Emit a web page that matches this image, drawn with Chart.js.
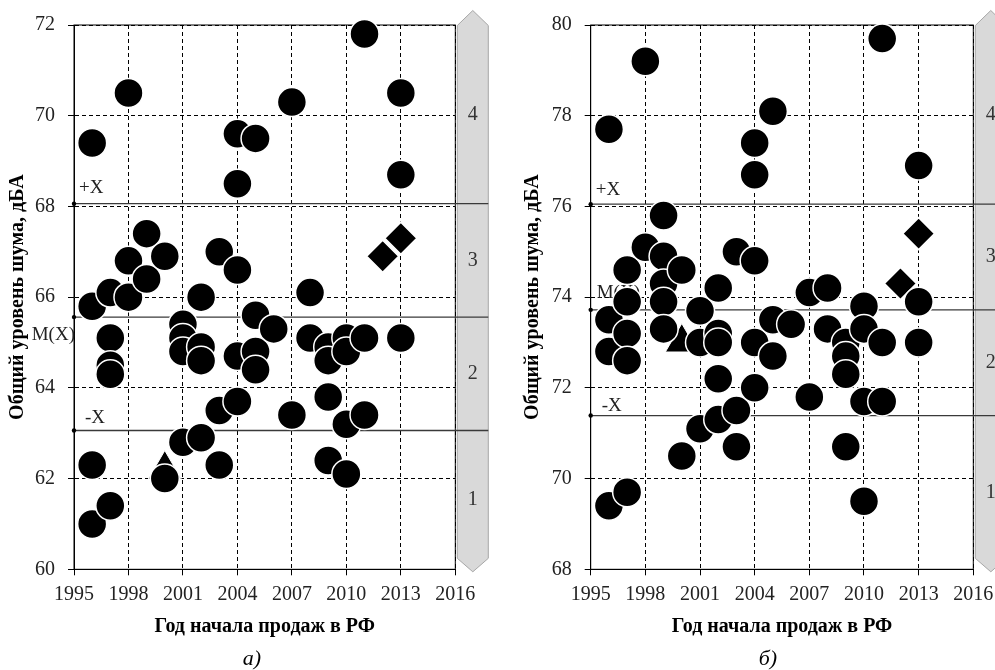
<!DOCTYPE html>
<html lang="ru">
<head>
<meta charset="utf-8">
<title>Общий уровень шума</title>
<script src="https://cdn.jsdelivr.net/npm/chart.js@4.4.1/dist/chart.umd.min.js"></script>
<style>
  html, body { margin: 0; padding: 0; background: #fff; overflow: hidden; width: 995px; height: 670px; }
  #wrap { position: relative; width: 995px; height: 670px; overflow: hidden; }
  canvas { position: absolute; top: 0; }
  #chartA { left: 0; }
  #chartB { left: 505px; }
  .caption { position: absolute; top: 645px; height: 24px; line-height: 24px; width: 60px; margin-left: -30px;
             text-align: center; font: italic 22px "Liberation Serif", serif; color: #000; }
</style>
</head>
<body>
<div id="wrap">
  <canvas id="chartA" width="505" height="670"></canvas>
  <canvas id="chartB" width="525" height="670"></canvas>
  <div class="caption" style="left:252px">а)</div>
  <div class="caption" style="left:768px">б)</div>
</div>
<script>
"use strict";

const FONT = '"Liberation Serif", "Times New Roman", serif';

// а) автомобили: год начала продаж / уровень шума, дБА
const yearsA = [1996, 1996, 1996, 1996, 1997, 1997, 1997, 1997, 1997, 1998, 1998, 1998, 1999, 1999, 2000, 2000,
    2001, 2001, 2001, 2001, 2002, 2002, 2002, 2002, 2003, 2003, 2003, 2004, 2004, 2004, 2004, 2004,
    2005, 2005, 2005, 2005, 2006, 2007, 2007, 2008, 2008, 2009, 2009, 2009, 2009, 2010, 2010, 2010, 2010,
    2011, 2011, 2011, 2013, 2013, 2013];
const noiseA = [69.4, 65.8, 62.3, 61.0, 66.1, 65.1, 64.5, 64.3, 61.4, 70.5, 66.8, 66.0, 67.4, 66.4, 66.9, 62.0,
    65.4, 65.1, 64.8, 62.8, 66.0, 64.9, 64.6, 62.9, 67.0, 63.5, 62.3, 69.6, 68.5, 66.6, 64.7, 63.7,
    69.5, 65.6, 64.8, 64.4, 65.3, 70.3, 63.4, 66.1, 65.1, 64.9, 64.6, 63.8, 62.4, 65.1, 64.8, 63.2, 62.1,
    71.8, 65.1, 63.4, 70.5, 68.7, 65.1];
const diamondYearsA = [2012, 2013];
const diamondNoiseA = [66.9, 67.3];
const triangleYearsA = [2000];
const triangleNoiseA = [62.2];
const statsA = [68.06, 65.56, 63.06];

// б)
const yearsB = [1996, 1996, 1996, 1996, 1997, 1997, 1997, 1997, 1997, 1998, 1998, 1999, 1999, 1999, 1999, 1999,
    2000, 2000, 2001, 2001, 2001, 2002, 2002, 2002, 2002, 2002, 2003, 2003, 2003,
    2004, 2004, 2004, 2004, 2004, 2005, 2005, 2005, 2006, 2007, 2007, 2008, 2008,
    2009, 2009, 2009, 2009, 2010, 2010, 2010, 2010, 2011, 2011, 2011, 2013, 2013, 2013];
const noiseB = [77.7, 73.5, 72.8, 69.4, 74.6, 73.9, 73.2, 72.6, 69.7, 79.2, 75.1, 75.8, 74.9, 74.3, 73.9, 73.3,
    74.6, 70.5, 73.7, 73.0, 71.1, 74.2, 73.2, 73.0, 72.2, 71.3, 75.0, 71.5, 70.7,
    77.4, 76.7, 74.8, 73.0, 72.0, 78.1, 73.5, 72.7, 73.4, 74.1, 71.8, 74.2, 73.3,
    73.0, 72.7, 72.3, 70.7, 73.8, 73.3, 71.7, 69.5, 79.7, 73.0, 71.7, 76.9, 73.9, 73.0];
const diamondYearsB = [2012, 2013];
const diamondNoiseB = [74.3, 75.4];
const triangleYearsB = [2000];
const triangleNoiseB = [73.0];
const statsB = [76.05, 73.72, 71.39];

const statNames = ['+X', 'M(X)', '-X'];
const zoneNames = ['4', '3', '2', '1'];
const xTicks = [1995, 2016, 3];

const toPoints = (xs, ys) => xs.map((x, i) => ({ x, y: ys[i] }));

// полоса с номерами зон, рамка и линии +X / M(X) / -X
const zoneBands = {
    id: 'zoneBands',
    beforeDatasetsDraw(chart, args, opts) {
        const { ctx, chartArea: a, scales: { y } } = chart;
        const bx = a.right + 2, bw = 31, mid = bx + bw / 2;
        ctx.save();
        ctx.beginPath();
        ctx.moveTo(bx, a.top + 0.5);
        ctx.lineTo(mid, a.top - 14.5);
        ctx.lineTo(bx + bw, a.top + 0.5);
        ctx.lineTo(bx + bw, a.bottom - 11);
        ctx.lineTo(mid, a.bottom + 2.5);
        ctx.lineTo(bx, a.bottom - 11);
        ctx.closePath();
        ctx.fillStyle = '#d9d9d9';
        ctx.fill();
        ctx.strokeStyle = '#a6a6a6';
        ctx.lineWidth = 1;
        ctx.stroke();

        const edges = [y.max, ...opts.stats, y.min];
        ctx.fillStyle = '#333';
        ctx.font = '20px ' + FONT;
        ctx.textAlign = 'center';
        ctx.textBaseline = 'middle';
        zoneNames.forEach((name, i) => {
            ctx.fillText(name, mid, y.getPixelForValue((edges[i] + edges[i + 1]) / 2));
        });

        ctx.strokeStyle = '#000';
        ctx.lineWidth = 1;
        ctx.strokeRect(a.left, a.top, a.width, a.height);

        ctx.font = '19px ' + FONT;
        ctx.textBaseline = 'middle';
        opts.stats.forEach((v, i) => {
            const py = y.getPixelForValue(v);
            ctx.strokeStyle = '#3a3a3a';
            ctx.lineWidth = 1.3;
            ctx.beginPath();
            ctx.moveTo(a.left, py);
            ctx.lineTo(bx + bw, py);
            ctx.stroke();
            ctx.fillStyle = '#000';
            ctx.beginPath();
            ctx.arc(a.left, py, 2.2, 0, Math.PI * 2);
            ctx.fill();
            const lab = opts.labels[i];
            ctx.fillStyle = '#222';
            ctx.textAlign = lab.align;
            ctx.fillText(statNames[i], a.left + lab.dx, py + lab.dy);
        });
        ctx.restore();
    }
};

function axisCommon() {
    return {
        grid: { color: '#000', lineWidth: 1, tickLength: 6, tickBorderDash: [], tickColor: '#000' },
        border: { color: '#000', width: 1, dash: [4, 3] }
    };
}

function buildChart(canvasId, pts, diamonds, triangles, yMin, yMax, yAxisWidth, yTitlePad, padRight, stats, labels) {
    const common = axisCommon();
    return new Chart(document.getElementById(canvasId), {
        type: 'scatter',
        data: {
            datasets: [
                { data: pts, backgroundColor: '#000', borderColor: '#fff', borderWidth: 1.5, pointRadius: 14.5, pointHoverRadius: 14.5, clip: false },
                { data: diamonds, pointStyle: 'rectRot', backgroundColor: '#000', borderColor: '#fff', borderWidth: 1.5, pointRadius: 16, pointHoverRadius: 16, clip: false },
                { data: triangles, pointStyle: 'triangle', backgroundColor: '#000', borderColor: '#fff', borderWidth: 1, pointRadius: 19, pointHoverRadius: 19, clip: false }
            ]
        },
        options: {
            responsive: false,
            animation: false,
            layout: { padding: { top: 22.7, right: padRight, bottom: 0, left: 0 } },
            plugins: {
                legend: { display: false },
                tooltip: { enabled: false },
                zoneBands: { stats, labels }
            },
            scales: {
                x: {
                    type: 'linear', min: xTicks[0], max: xTicks[1],
                    ticks: { stepSize: xTicks[2], padding: 7, color: '#222', font: { family: FONT, size: 20 }, callback: v => String(v) },
                    grid: common.grid, border: common.border,
                    title: { display: true, text: 'Год начала продаж в РФ', color: '#000', font: { family: FONT, size: 20, weight: 'bold' }, padding: { top: 0, bottom: 31 } },
                    afterFit: s => { s.height = 100.7; }
                },
                y: {
                    min: yMin, max: yMax,
                    ticks: { stepSize: 2, padding: 13, color: '#222', font: { family: FONT, size: 20 }, callback: v => String(v) },
                    grid: common.grid, border: common.border,
                    title: { display: true, text: 'Общий уровень шума, дБА', color: '#000', font: { family: FONT, size: 20, weight: 'bold' }, padding: { top: yTitlePad, bottom: 0 } },
                    afterFit: s => { s.width = yAxisWidth; }
                }
            }
        },
        plugins: [zoneBands]
    });
}

buildChart('chartA', toPoints(yearsA, noiseA), toPoints(diamondYearsA, diamondNoiseA), toPoints(triangleYearsA, triangleNoiseA),
    60, 72, 74, 5.5, 49.7, statsA,
    [{ dx: 5, dy: -16, align: 'left' }, { dx: 1, dy: 18, align: 'right' }, { dx: 11, dy: -12, align: 'left' }]);

buildChart('chartB', toPoints(yearsB, noiseB), toPoints(diamondYearsB, diamondNoiseB), toPoints(triangleYearsB, triangleNoiseB),
    68, 80, 85.7, 15.5, 56.7, statsB,
    [{ dx: 5, dy: -14, align: 'left' }, { dx: 6, dy: -17, align: 'left' }, { dx: 11, dy: -10, align: 'left' }]);
</script>
</body>
</html>
